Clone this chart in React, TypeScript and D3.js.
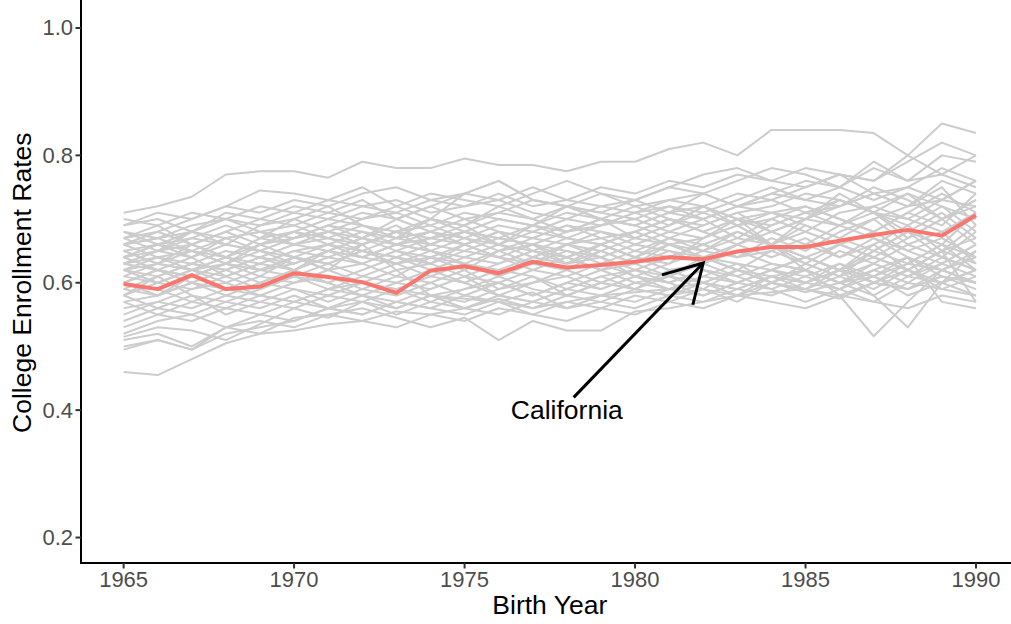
import React from "react";
import * as d3 from "d3";

// Birth cohorts on the x axis
const years = [
  1965, 1966, 1967, 1968, 1969, 1970, 1971, 1972, 1973, 1974, 1975, 1976, 1977,
  1978, 1979, 1980, 1981, 1982, 1983, 1984, 1985, 1986, 1987, 1988, 1989, 1990,
];

// Highlighted state
const californiaRates = [
  0.598, 0.59, 0.612, 0.59, 0.594, 0.615, 0.609, 0.601, 0.584, 0.619, 0.626,
  0.615, 0.633, 0.624, 0.628, 0.633, 0.64, 0.637, 0.649, 0.656, 0.656, 0.666,
  0.675, 0.683, 0.674, 0.706,
];

// Every other state, one row per state (same year order)
const otherStateRates = [
  [.71,.72,.735,.77,.775,.775,.765,.79,.78,.78,.795,.785,.785,.775,.79,.79,.81,.82,.80,.84,.84,.84,.835,.80,.85,.835],
  [.46,.455,.48,.505,.52,.525,.535,.54,.555,.55,.56,.575,.56,.57,.58,.585,.59,.60,.59,.61,.60,.62,.61,.63,.62,.64],
  [.50,.51,.495,.53,.52,.545,.55,.56,.545,.53,.545,.51,.54,.525,.525,.555,.56,.57,.58,.585,.59,.575,.60,.59,.61,.60],
  [.515,.53,.525,.51,.535,.56,.545,.57,.56,.58,.575,.57,.585,.56,.57,.59,.58,.59,.57,.60,.585,.60,.62,.64,.57,.56],
  [.70,.69,.71,.70,.72,.71,.73,.72,.71,.73,.72,.74,.72,.73,.75,.74,.76,.75,.77,.76,.78,.77,.76,.79,.82,.80],
  [.69,.70,.68,.71,.70,.72,.71,.70,.72,.74,.73,.72,.74,.76,.74,.72,.73,.74,.76,.78,.77,.75,.79,.76,.77,.75],
  [.68,.67,.69,.70,.69,.71,.70,.72,.73,.71,.72,.73,.71,.70,.72,.73,.71,.74,.72,.73,.75,.77,.74,.72,.76,.74],
  [.67,.68,.66,.68,.70,.69,.71,.73,.70,.72,.70,.71,.73,.72,.71,.70,.72,.71,.73,.75,.73,.72,.74,.75,.73,.76],
  [.66,.67,.68,.66,.69,.70,.68,.70,.71,.69,.71,.70,.69,.71,.70,.72,.70,.69,.71,.72,.74,.73,.71,.74,.72,.70],
  [.68,.66,.67,.69,.67,.68,.70,.69,.68,.70,.69,.72,.70,.68,.69,.71,.72,.70,.72,.71,.70,.72,.75,.73,.70,.72],
  [.65,.66,.64,.67,.68,.66,.67,.69,.67,.68,.70,.68,.67,.69,.68,.67,.69,.71,.69,.70,.72,.70,.68,.71,.74,.71],
  [.64,.65,.67,.66,.65,.67,.69,.68,.66,.67,.68,.70,.69,.67,.66,.68,.70,.68,.70,.69,.71,.73,.71,.69,.72,.68],
  [.66,.64,.65,.67,.68,.69,.67,.66,.68,.69,.67,.69,.68,.70,.69,.70,.68,.70,.67,.70,.68,.71,.72,.74,.70,.73],
  [.63,.65,.66,.64,.67,.66,.68,.67,.69,.66,.68,.67,.69,.68,.70,.69,.67,.69,.71,.68,.70,.69,.71,.70,.68,.71],
  [.65,.63,.66,.68,.66,.68,.66,.68,.67,.70,.69,.66,.68,.67,.69,.71,.69,.72,.70,.71,.69,.67,.70,.72,.75,.69],
  [.64,.66,.65,.63,.66,.67,.69,.67,.70,.68,.66,.68,.67,.66,.68,.66,.68,.67,.69,.71,.72,.70,.68,.71,.69,.74],
  [.62,.64,.63,.65,.64,.66,.65,.67,.66,.68,.67,.65,.67,.69,.67,.68,.70,.68,.66,.69,.71,.69,.72,.70,.73,.72],
  [.67,.65,.68,.67,.65,.67,.68,.66,.68,.67,.69,.71,.70,.72,.70,.69,.71,.72,.70,.68,.70,.73,.71,.68,.71,.67],
  [.62,.61,.63,.62,.64,.63,.65,.64,.66,.65,.64,.66,.65,.67,.66,.64,.66,.65,.67,.66,.68,.66,.64,.67,.70,.66],
  [.61,.63,.62,.64,.63,.65,.64,.63,.65,.67,.66,.64,.66,.65,.63,.65,.67,.66,.64,.67,.65,.68,.70,.66,.64,.68],
  [.63,.62,.64,.61,.63,.65,.66,.64,.63,.65,.67,.66,.64,.66,.67,.65,.64,.66,.68,.66,.69,.67,.65,.68,.66,.71],
  [.60,.62,.61,.63,.62,.61,.63,.65,.64,.62,.64,.63,.65,.64,.62,.64,.63,.65,.64,.66,.64,.66,.68,.65,.67,.64],
  [.62,.60,.62,.63,.61,.64,.62,.63,.65,.64,.62,.65,.63,.62,.65,.63,.65,.64,.62,.65,.67,.64,.66,.69,.65,.67],
  [.64,.62,.60,.62,.64,.62,.64,.66,.62,.63,.65,.64,.62,.64,.66,.64,.62,.63,.66,.64,.66,.69,.67,.64,.62,.65],
  [.61,.60,.62,.60,.62,.64,.63,.61,.63,.64,.63,.61,.64,.63,.64,.66,.65,.63,.65,.63,.62,.65,.63,.66,.68,.63],
  [.63,.64,.62,.61,.63,.62,.60,.62,.64,.63,.61,.63,.65,.64,.62,.63,.61,.64,.63,.62,.64,.62,.65,.63,.66,.62],
  [.65,.63,.62,.64,.62,.63,.65,.63,.61,.64,.66,.64,.63,.65,.64,.62,.64,.66,.64,.65,.63,.66,.64,.62,.65,.69],
  [.62,.63,.65,.63,.62,.64,.63,.65,.63,.61,.63,.65,.66,.63,.65,.67,.66,.64,.66,.68,.66,.64,.67,.65,.63,.66],
  [.59,.58,.60,.59,.61,.60,.62,.60,.59,.61,.60,.62,.61,.59,.61,.62,.60,.62,.61,.63,.62,.60,.63,.61,.64,.62],
  [.58,.60,.59,.61,.59,.61,.60,.58,.60,.59,.61,.60,.58,.60,.62,.60,.61,.59,.62,.60,.63,.61,.59,.62,.60,.65],
  [.57,.58,.60,.58,.60,.59,.57,.59,.61,.60,.58,.60,.62,.61,.59,.61,.59,.61,.60,.62,.60,.62,.64,.62,.59,.61],
  [.60,.59,.57,.59,.58,.60,.61,.59,.58,.60,.62,.59,.60,.62,.60,.59,.62,.60,.58,.61,.62,.60,.61,.64,.61,.60],
  [.56,.57,.59,.60,.58,.57,.59,.60,.62,.58,.59,.61,.59,.58,.60,.62,.61,.63,.61,.59,.61,.63,.60,.62,.65,.63],
  [.59,.61,.58,.57,.59,.61,.59,.61,.60,.62,.60,.58,.60,.61,.63,.61,.60,.58,.60,.62,.64,.62,.60,.63,.66,.64],
  [.55,.57,.56,.58,.57,.59,.58,.60,.59,.57,.59,.60,.58,.60,.59,.61,.60,.62,.60,.62,.61,.59,.62,.60,.63,.61],
  [.57,.55,.57,.56,.58,.57,.59,.58,.56,.58,.57,.59,.61,.58,.60,.59,.61,.60,.62,.61,.59,.61,.63,.61,.60,.62],
  [.58,.56,.55,.57,.56,.58,.56,.58,.57,.59,.61,.58,.57,.59,.58,.60,.59,.61,.63,.60,.62,.60,.58,.61,.63,.66],
  [.54,.56,.58,.55,.57,.56,.58,.57,.59,.58,.56,.58,.57,.59,.61,.59,.58,.60,.59,.61,.60,.63,.61,.59,.62,.60],
  [.53,.55,.54,.56,.55,.57,.56,.55,.57,.56,.58,.57,.55,.57,.56,.58,.57,.59,.58,.60,.59,.58,.60,.59,.61,.59],
  [.52,.54,.55,.53,.55,.54,.56,.57,.55,.57,.56,.55,.57,.56,.58,.57,.59,.58,.60,.59,.57,.59,.61,.58,.60,.62],
  [.495,.51,.495,.52,.53,.54,.56,.55,.57,.56,.55,.57,.56,.58,.57,.56,.58,.57,.59,.58,.60,.59,.57,.60,.59,.58],
  [.51,.52,.50,.53,.54,.53,.55,.54,.53,.55,.54,.56,.55,.54,.56,.55,.57,.56,.58,.57,.56,.58,.57,.56,.58,.57],
  [.63,.65,.64,.66,.65,.63,.65,.64,.66,.65,.63,.62,.64,.66,.65,.63,.66,.64,.62,.60,.59,.62,.58,.53,.60,.58],
  [.66,.67,.65,.64,.66,.68,.67,.65,.64,.66,.65,.67,.66,.64,.66,.68,.66,.67,.69,.66,.62,.58,.516,.57,.62,.60],
  [.60,.62,.61,.63,.65,.64,.66,.65,.67,.66,.68,.67,.66,.68,.70,.69,.71,.70,.72,.74,.73,.75,.78,.76,.80,.79],
  [.69,.71,.70,.72,.71,.73,.72,.74,.75,.73,.74,.76,.73,.72,.74,.73,.75,.77,.78,.76,.75,.77,.76,.80,.77,.80],
  [.64,.66,.68,.70,.68,.67,.69,.71,.70,.72,.74,.73,.75,.73,.72,.71,.73,.72,.74,.73,.71,.72,.74,.72,.73,.76],
  [.58,.61,.63,.62,.60,.62,.65,.67,.65,.63,.66,.68,.65,.63,.66,.64,.67,.65,.68,.66,.64,.62,.66,.62,.65,.57],
  [.60,.58,.61,.63,.66,.64,.62,.66,.68,.65,.63,.61,.63,.66,.64,.61,.63,.67,.70,.66,.63,.61,.65,.68,.64,.62],
  [.67,.69,.66,.64,.67,.70,.72,.69,.67,.70,.68,.66,.69,.72,.70,.67,.69,.72,.69,.66,.70,.74,.71,.67,.70,.73],
  [.66,.68,.70,.72,.745,.74,.73,.75,.72,.70,.74,.76,.73,.72,.71,.73,.75,.74,.72,.74,.76,.75,.73,.75,.78,.76],
];

const xTicks = [1965, 1970, 1975, 1980, 1985, 1990];
const yTicks = [0.2, 0.4, 0.6, 0.8, 1.0];

// Annotation: label position and arrow from label to the highlighted line
const labelText = "California";
const labelAt = { year: 1978, rate: 0.4 };
const arrowFrom = { year: 1978.2, rate: 0.42 };
const arrowTo = { year: 1982, rate: 0.631 };

const W = 1011;
const H = 624;
const FONT = "'Liberation Sans', Arial, Helvetica, sans-serif";
const TICK_SIZE = 22;
const TITLE_SIZE = 26.5;

export default function App() {
  const x = d3.scaleLinear().domain([1963.75, 1991.25]).range([81, 1018.6]);
  const y = d3.scaleLinear().domain([0.16, 1.04]).range([563, 2.5]);

  const line = d3
    .line<number>()
    .x((_, i) => x(years[i]))
    .y((d) => y(d));

  // arrow geometry
  const ax1 = x(arrowFrom.year);
  const ay1 = y(arrowFrom.rate);
  const ax2 = x(arrowTo.year);
  const ay2 = y(arrowTo.rate);
  const ang = Math.atan2(ay2 - ay1, ax2 - ax1);
  const headLen = 43;
  const headAng = (30 * Math.PI) / 180;
  const h1x = ax2 - headLen * Math.cos(ang - headAng);
  const h1y = ay2 - headLen * Math.sin(ang - headAng);
  const h2x = ax2 - headLen * Math.cos(ang + headAng);
  const h2y = ay2 - headLen * Math.sin(ang + headAng);

  const plotLeft = 81;
  const plotBottom = 563;

  return (
    <svg
      width={W}
      height={H}
      style={{ position: "absolute", left: 0, top: 0, background: "#fff" }}
      fontFamily={FONT}
    >
      <rect width={W} height={H} fill="#fff" />

      {/* all other states */}
      <g fill="none" stroke="#cccccc" strokeWidth={2} strokeLinejoin="round">
        {otherStateRates.map((s, i) => (
          <path key={i} d={line(s) || ""} />
        ))}
      </g>

      {/* highlighted state */}
      <path
        d={line(californiaRates) || ""}
        fill="none"
        stroke="#F8766D"
        strokeWidth={4}
        strokeLinejoin="round"
      />

      {/* annotation arrow */}
      <g stroke="#000" strokeWidth={3} fill="none" strokeLinecap="butt">
        <line x1={ax1} y1={ay1} x2={ax2} y2={ay2} />
        <polyline points={`${h1x},${h1y} ${ax2},${ay2} ${h2x},${h2y}`} strokeLinejoin="miter" />
      </g>
      <text
        x={x(labelAt.year)}
        y={y(labelAt.rate)}
        textAnchor="middle"
        dominantBaseline="central"
        fontSize={TITLE_SIZE}
        fill="#000"
      >
        {labelText}
      </text>

      {/* axes */}
      <line x1={plotLeft} y1={0} x2={plotLeft} y2={plotBottom + 1} stroke="#000" strokeWidth={2} />
      <line x1={plotLeft - 1} y1={plotBottom} x2={W + 10} y2={plotBottom} stroke="#000" strokeWidth={2} />

      {yTicks.map((t) => (
        <g key={t}>
          <line x1={plotLeft - 5.5} x2={plotLeft} y1={y(t)} y2={y(t)} stroke="#333" strokeWidth={2} />
          <text
            x={plotLeft - 8}
            y={y(t)}
            textAnchor="end"
            dominantBaseline="central"
            fontSize={TICK_SIZE}
            fill="#4D4D4D"
          >
            {t.toFixed(1)}
          </text>
        </g>
      ))}

      {xTicks.map((t) => (
        <g key={t}>
          <line x1={x(t)} x2={x(t)} y1={plotBottom} y2={plotBottom + 5.5} stroke="#333" strokeWidth={2} />
          <text x={x(t)} y={plotBottom + 24} textAnchor="middle" fontSize={TICK_SIZE} fill="#4D4D4D">
            {t}
          </text>
        </g>
      ))}

      <text x={(81 + 1018.6) / 2} y={614} textAnchor="middle" fontSize={TITLE_SIZE} fill="#000">
        Birth Year
      </text>
      <text
        transform={`translate(31, ${(2.5 + 563) / 2}) rotate(-90)`}
        textAnchor="middle"
        fontSize={TITLE_SIZE}
        fill="#000"
      >
        College Enrollment Rates
      </text>
    </svg>
  );
}
